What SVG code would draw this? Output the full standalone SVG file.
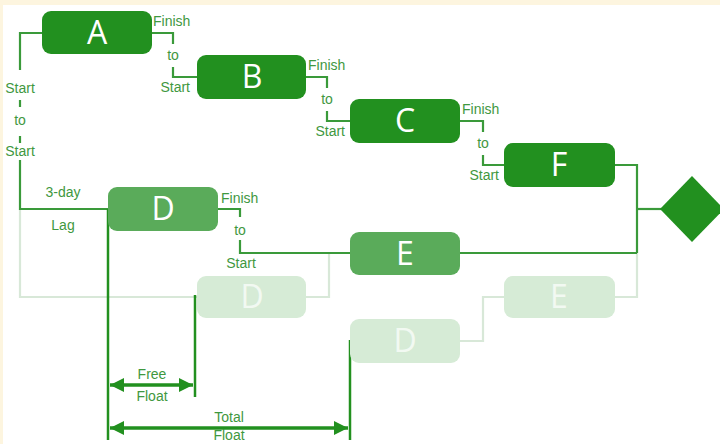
<svg xmlns="http://www.w3.org/2000/svg" width="720" height="444" viewBox="0 0 720 444">
<defs>
<style>
.dark{fill:#22901f}
.mid{fill:#5aab5a}
.faded{fill:#d6ebd6}
.ltr{font-family:"Open Sans","DejaVu Sans",sans-serif;font-size:32px;fill:#ffffff;text-anchor:middle}
.ltrf{font-family:"Open Sans","DejaVu Sans",sans-serif;font-size:32px;fill:#f2f9f2;text-anchor:middle}
.lbl{font-family:"Liberation Sans",Arial,sans-serif;font-size:14px;fill:#3f983f}
.c{text-anchor:middle}
.e{text-anchor:end}
.ln{fill:none;stroke:#3a9a3a;stroke-width:2.2}
.lnf{fill:none;stroke:#d8e8d8;stroke-width:2.2}
.fl{fill:none;stroke:#22901f;stroke-width:2.5}
.ar{fill:none;stroke:#22901f;stroke-width:3.5}
</style>
<marker id="ah" viewBox="0 0 10 10" refX="10" refY="5" markerWidth="4" markerHeight="4" orient="auto-start-reverse" markerUnits="strokeWidth">
<path d="M0,0 L10,5 L0,10 z" fill="#22901f"/>
</marker>
</defs>
<rect x="0" y="0" width="720" height="444" fill="#ffffff"/>
<rect x="0" y="0" width="720" height="5" fill="#fdf5df"/>
<rect x="0" y="0" width="3" height="444" fill="#fdf5df"/>

<g id="connectors">
<path class="lnf" d="M20,209 V297 H197"/>
<path class="lnf" d="M306,297 H329 V253"/>
<path class="lnf" d="M615,297 H637 V253"/>
<path class="lnf" d="M460,341 H483 V297 H504"/>
<path class="ln" d="M42,33 H20 V70"/>
<path class="ln" d="M20,100 V107"/>
<path class="ln" d="M20,136 V143"/>
<path class="ln" d="M20,160 V209 H108"/>
<path class="ln" d="M152,33 H173 V44"/>
<path class="ln" d="M173,67 V77 H197"/>
<path class="ln" d="M306,77 H327 V88"/>
<path class="ln" d="M327,111 V121 H350"/>
<path class="ln" d="M460,121 H483 V132"/>
<path class="ln" d="M483,155 V165 H504"/>
<path class="ln" d="M218,209 H240 V217"/>
<path class="ln" d="M240,240 V253 H350"/>
<path class="ln" d="M460,253 H637"/>
<path class="ln" d="M615,165 H637 V253"/>
<path class="ln" d="M637,209 H662"/>
<path class="fl" d="M108,209 V440"/>
<path class="fl" d="M195,295 V397"/>
<path class="fl" d="M350,340 V440"/>
<path class="ar" d="M110,385 H193" marker-start="url(#ah)" marker-end="url(#ah)"/>
<path class="ar" d="M110,428 H348" marker-start="url(#ah)" marker-end="url(#ah)"/>
</g>

<g id="labels">
<text class="lbl c" x="20" y="93">Start</text>
<text class="lbl c" x="20" y="125">to</text>
<text class="lbl c" x="20" y="156">Start</text>
<text class="lbl" x="153" y="26">Finish</text>
<text class="lbl c" x="173" y="60">to</text>
<text class="lbl e" x="190" y="92">Start</text>
<text class="lbl" x="308" y="70">Finish</text>
<text class="lbl c" x="327" y="104">to</text>
<text class="lbl e" x="345" y="136">Start</text>
<text class="lbl" x="462" y="114">Finish</text>
<text class="lbl c" x="483" y="148">to</text>
<text class="lbl e" x="499" y="180">Start</text>
<text class="lbl" x="221" y="203">Finish</text>
<text class="lbl c" x="240" y="235">to</text>
<text class="lbl c" x="241" y="268">Start</text>
<text class="lbl c" x="63" y="197">3-day</text>
<text class="lbl c" x="63" y="230">Lag</text>
<text class="lbl c" x="152" y="379">Free</text>
<text class="lbl c" x="152" y="401">Float</text>
<text class="lbl c" x="229" y="422">Total</text>
<text class="lbl c" x="229" y="440">Float</text>
</g>

<g id="node-A"><rect class="dark" x="42" y="11" width="110" height="43" rx="9"/><text class="ltr" x="97" y="44">A</text></g>
<g id="node-B"><rect class="dark" x="197" y="55" width="109" height="44" rx="9"/><text class="ltr" x="252" y="88">B</text></g>
<g id="node-C"><rect class="dark" x="350" y="99" width="110" height="44" rx="9"/><text class="ltr" x="405" y="132">C</text></g>
<g id="node-F"><rect class="dark" x="504" y="143" width="111" height="44" rx="9"/><text class="ltr" x="559" y="176">F</text></g>
<g id="node-D"><rect class="mid" x="108" y="187" width="110" height="44" rx="9"/><text class="ltr" x="163" y="220">D</text></g>
<g id="node-E"><rect class="mid" x="350" y="232" width="110" height="43" rx="9"/><text class="ltr" x="405" y="265">E</text></g>
<g id="node-D-faded-1"><rect class="faded" x="197" y="276" width="109" height="42" rx="9"/><text class="ltrf" x="252" y="308">D</text></g>
<g id="node-E-faded"><rect class="faded" x="504" y="276" width="111" height="42" rx="9"/><text class="ltrf" x="559" y="308">E</text></g>
<g id="node-D-faded-2"><rect class="faded" x="350" y="319" width="110" height="44" rx="9"/><text class="ltrf" x="405" y="352">D</text></g>
<g id="node-end"><polygon class="dark" points="660,209 692,176 724,209 692,242"/></g>
</svg>
